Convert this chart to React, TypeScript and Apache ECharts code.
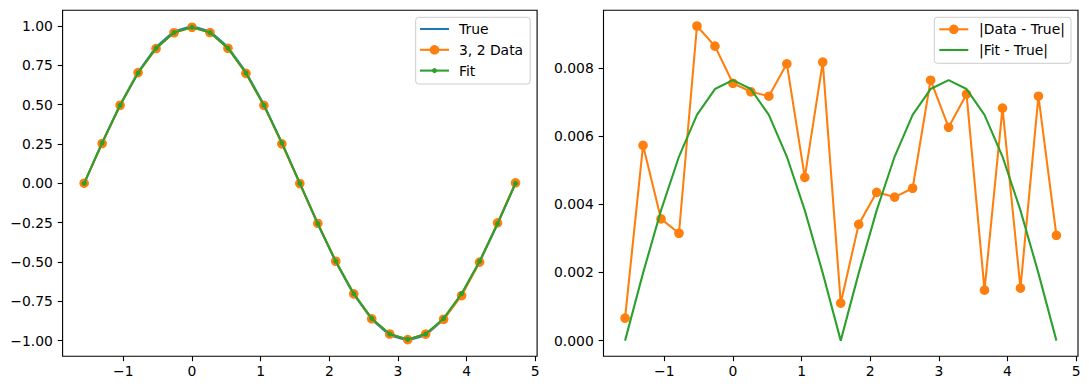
import React, { useEffect, useRef } from "react";
import * as echarts from "echarts";

// ---- data ----
const xs = [
  -1.5708, -1.309, -1.0472, -0.7854, -0.5236, -0.2618, 0, 0.2618, 0.5236, 0.7854, 1.0472, 1.309, 1.5708,
  1.8326, 2.0944, 2.3562, 2.618, 2.8798, 3.1416, 3.4034, 3.6652, 3.927, 4.1888, 4.4506, 4.7124,
];
const trueVals = [
  0, 0.2588, 0.5, 0.7071, 0.866, 0.9659, 1, 0.9659, 0.866, 0.7071, 0.5, 0.2588, 0,
  -0.2588, -0.5, -0.7071, -0.866, -0.9659, -1, -0.9659, -0.866, -0.7071, -0.5, -0.2588, 0,
];
const dataVals = [
  0.0007, 0.2531, 0.4964, 0.7039, 0.8568, 0.9573, 0.9924, 0.9586, 0.8588, 0.699, 0.4952, 0.2506, -0.0011,
  -0.2554, -0.4956, -0.7029, -0.8615, -0.9583, -0.9937, -0.9587, -0.8645, -0.7139, -0.5015, -0.2516, 0.0031,
];
const fitVals = [
  0, 0.2568, 0.4962, 0.7017, 0.8594, 0.9585, 0.9924, 0.9585, 0.8594, 0.7017, 0.4962, 0.2568, 0,
  -0.2568, -0.4962, -0.7017, -0.8594, -0.9585, -0.9924, -0.9585, -0.8594, -0.7017, -0.4962, -0.2568, 0,
];
const dataErr = [
  0.00066, 0.00573, 0.00357, 0.00315, 0.00923, 0.00864, 0.00755, 0.0073, 0.00717, 0.00812, 0.00479, 0.00817, 0.0011,
  0.00341, 0.00435, 0.00421, 0.00447, 0.00764, 0.00626, 0.00723, 0.00148, 0.00682, 0.00154, 0.00717, 0.00309,
];
const fitErr = [
  0, 0.00198, 0.00382, 0.0054, 0.00662, 0.00738, 0.00764, 0.00738, 0.00662, 0.0054, 0.00382, 0.00198, 0,
  0.00198, 0.00382, 0.0054, 0.00662, 0.00738, 0.00764, 0.00738, 0.00662, 0.0054, 0.00382, 0.00198, 0,
];
const xTicks = [-1, 0, 1, 2, 3, 4, 5];
const yTicksLeft = [-1, -0.75, -0.5, -0.25, 0, 0.25, 0.5, 0.75, 1];
const yTicksRight = [0, 0.002, 0.004, 0.006, 0.008];
const leftLegend = ["True", "3, 2 Data", "Fit"];
const rightLegend = ["|Data - True|", "|Fit - True|"];

const BLUE = "#1f77b4";
const ORANGE = "#ff7f0e";
const GREEN = "#2ca02c";
const FONT = "DejaVu Sans";
const FS = 13.9;
const LW = 2.08;
const BIG = 9.6;
const SMALL = 5;

const minus = (s: string) => s.replace("-", "\u2212");

function xAxis(gridIndex: number) {
  return {
    type: "value",
    gridIndex,
    min: -1.885,
    max: 5.027,
    axisLine: { show: false, onZero: false },
    splitLine: { show: false },
    axisTick: { show: true, inside: false, length: 4.9, customValues: xTicks, lineStyle: { color: "#000", width: 1.1 } },
    axisLabel: {
      customValues: xTicks,
      margin: 8,
      color: "#000",
      fontFamily: FONT,
      fontSize: FS,
      formatter: (v: number) => minus(String(v)),
    },
  };
}

function yAxis(gridIndex: number, min: number, max: number, ticks: number[], digits: number) {
  return {
    type: "value",
    gridIndex,
    min,
    max,
    axisLine: { show: false, onZero: false },
    splitLine: { show: false },
    axisTick: { show: true, inside: false, length: 4.9, customValues: ticks, lineStyle: { color: "#000", width: 1.1 } },
    axisLabel: {
      customValues: ticks,
      margin: 9.7,
      color: "#000",
      fontFamily: FONT,
      fontSize: FS,
      formatter: (v: number) => minus(v.toFixed(digits)),
    },
  };
}

const pairs = (a: number[], b: number[]) => a.map((v, i) => [v, b[i]]);

function legendGraphic(
  left: number,
  top: number,
  right: number,
  bottom: number,
  handleX0: number,
  textX: number,
  rowY: number[],
  items: { name: string; color: string; r: number }[]
) {
  const children: any[] = [
    {
      type: "rect",
      shape: { x: left, y: top, width: right - left, height: bottom - top, r: 3 },
      style: { fill: "rgba(255,255,255,0.8)", stroke: "#cccccc", lineWidth: 1 },
      z: 100,
    },
  ];
  items.forEach((it, i) => {
    const y = rowY[i];
    children.push({
      type: "line",
      shape: { x1: handleX0, y1: y, x2: handleX0 + 29, y2: y },
      style: { stroke: it.color, lineWidth: LW },
      z: 101,
    });
    if (it.r > 0) {
      children.push({
        type: "circle",
        shape: { cx: handleX0 + 14.5, cy: y, r: it.r },
        style: { fill: it.color },
        z: 102,
      });
    }
    children.push({
      type: "text",
      x: textX,
      y,
      style: { text: it.name, fill: "#000", font: `${FS}px "${FONT}"`, verticalAlign: "middle", align: "left" },
      z: 102,
    });
  });
  return children;
}

export default function App() {
  const ref = useRef<HTMLDivElement>(null);
  useEffect(() => {
    if (!ref.current) return;
    const chart = echarts.init(ref.current, undefined, { renderer: "svg" });
    chart.setOption({
      animation: false,
      backgroundColor: "#fff",
      grid: [
        { left: 62.6, top: 10.3, width: 474.5, height: 346, show: true, borderColor: "#000", borderWidth: 1.1, backgroundColor: "transparent" },
        { left: 603.5, top: 10.3, width: 474.5, height: 346, show: true, borderColor: "#000", borderWidth: 1.1, backgroundColor: "transparent" },
      ],
      xAxis: [xAxis(0), xAxis(1)],
      yAxis: [yAxis(0, -1.1, 1.1, yTicksLeft, 2), yAxis(1, -0.00046, 0.00969, yTicksRight, 3)],
      series: [
        {
          name: "True",
          type: "line",
          xAxisIndex: 0,
          yAxisIndex: 0,
          data: pairs(xs, trueVals),
          symbol: "none",
          lineStyle: { color: BLUE, width: LW },
          itemStyle: { color: BLUE },
          z: 2,
        },
        {
          name: "3, 2 Data",
          type: "line",
          xAxisIndex: 0,
          yAxisIndex: 0,
          data: pairs(xs, dataVals),
          symbol: "circle",
          symbolSize: BIG,
          lineStyle: { color: ORANGE, width: LW },
          itemStyle: { color: ORANGE },
          z: 3,
        },
        {
          name: "Fit",
          type: "line",
          xAxisIndex: 0,
          yAxisIndex: 0,
          data: pairs(xs, fitVals),
          symbol: "circle",
          symbolSize: SMALL,
          lineStyle: { color: GREEN, width: LW },
          itemStyle: { color: GREEN },
          z: 4,
        },
        {
          name: "|Data - True|",
          type: "line",
          xAxisIndex: 1,
          yAxisIndex: 1,
          data: pairs(xs, dataErr),
          symbol: "circle",
          symbolSize: BIG,
          lineStyle: { color: ORANGE, width: LW },
          itemStyle: { color: ORANGE },
          z: 3,
        },
        {
          name: "|Fit - True|",
          type: "line",
          xAxisIndex: 1,
          yAxisIndex: 1,
          data: pairs(xs, fitErr),
          symbol: "none",
          lineStyle: { color: GREEN, width: LW },
          itemStyle: { color: GREEN },
          z: 4,
        },
      ],
      graphic: [
        ...legendGraphic(415.7, 17.3, 530.2, 84, 420, 459, [29, 49.8, 70.6], [
          { name: leftLegend[0], color: BLUE, r: 0 },
          { name: leftLegend[1], color: ORANGE, r: BIG / 2 },
          { name: leftLegend[2], color: GREEN, r: SMALL / 2 },
        ]),
        ...legendGraphic(934.3, 17.3, 1071, 63.3, 939.3, 979, [29.3, 50], [
          { name: rightLegend[0], color: ORANGE, r: BIG / 2 },
          { name: rightLegend[1], color: GREEN, r: 0 },
        ]),
      ],
    });
    return () => chart.dispose();
  }, []);
  return (
    <div
      ref={ref}
      style={{ position: "absolute", left: 0, top: 0, width: 1089, height: 390, background: "#fff" }}
    />
  );
}
